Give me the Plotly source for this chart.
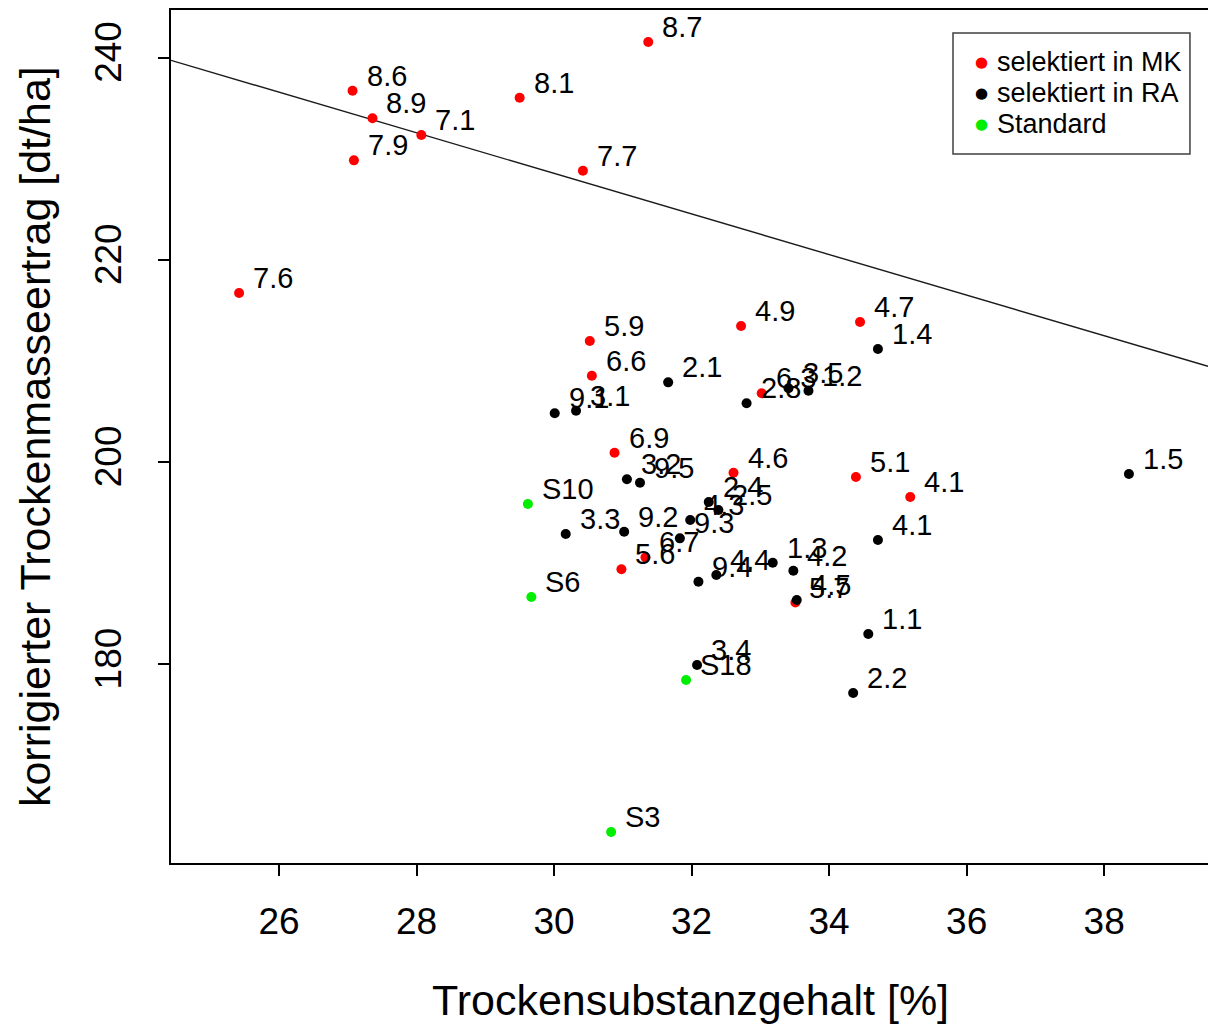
import plotly.graph_objects as go

# ---------------- data ----------------
red_labels = ["8.7", "8.6", "8.9", "7.1", "7.9", "8.1", "7.7", "7.6", "5.9", "6.6",
              "4.9", "4.7", "6.3", "6.9", "4.6", "5.1", "4.1", "6.7", "5.6", "5.7"]
red_x = [31.37, 27.07, 27.36, 28.07, 27.09, 29.50, 30.42, 25.42, 30.52, 30.55,
         32.72, 34.45, 33.02, 30.88, 32.61, 34.39, 35.18, 31.33, 30.98, 33.51]
red_y = [241.53, 236.72, 233.99, 232.33, 229.83, 236.02, 228.80, 216.71, 211.96, 208.53,
         213.44, 213.84, 206.79, 200.91, 198.93, 198.51, 196.53, 190.56, 189.38, 186.09]

black_labels = ["1.4", "2.1", "2.8", "3.5", "1.2", "9.1", "3.1", "3.2", "9.5", "1.5",
                "2.4", "2.5", "4.3", "3.3", "9.2", "9.3", "4.1", "1.3", "4.2", "4.4",
                "9.4", "4.5", "1.1", "3.4", "2.2"]
black_x = [34.71, 31.66, 32.80, 33.41, 33.70, 30.01, 30.32, 31.06, 31.25, 38.36,
           32.25, 32.39, 31.98, 30.17, 31.02, 31.83, 34.71, 33.18, 33.48, 32.36,
           32.10, 33.53, 34.57, 32.08, 34.35]
black_y = [211.17, 207.87, 205.80, 207.28, 207.04, 204.81, 205.06, 198.28, 197.94, 198.80,
           196.03, 195.24, 194.25, 192.87, 193.10, 192.44, 192.28, 190.03, 189.24, 188.81,
           188.15, 186.34, 182.98, 179.91, 177.14]

green_labels = ["S10", "S6", "S18", "S3"]
green_x = [29.62, 29.67, 31.92, 30.83]
green_y = [195.84, 186.64, 178.43, 163.39]

legend_names = ["selektiert in MK", "selektiert in RA", "Standard"]

x_ticks = [26, 28, 30, 32, 34, 36, 38]
y_ticks = [180, 200, 220, 240]
x_range = [24.43, 39.51]
y_range = [160.33, 244.70]

line_intercept = 288.75
line_slope = -2.007

x_title = "Trockensubstanzgehalt [%]"
y_title = "korrigierter Trockenmasseertrag [dt/ha]"

# ---------------- figure ----------------
FONT = "Liberation Sans, Arial, sans-serif"
fig = go.Figure()

line_x = list(x_range)
line_y = [line_intercept + line_slope * v for v in line_x]
fig.add_trace(go.Scatter(x=line_x, y=line_y, mode="lines",
                         line=dict(color="#1a1a1a", width=1.4),
                         hoverinfo="skip", showlegend=False))

groups = [
    (red_labels, red_x, red_y, "#ff0000", legend_names[0]),
    (black_labels, black_x, black_y, "#000000", legend_names[1]),
    (green_labels, green_x, green_y, "#00ee00", legend_names[2]),
]

annotations = []
for labels, xs, ys, color, name in groups:
    fig.add_trace(go.Scatter(x=xs, y=ys, mode="markers", name=name,
                             marker=dict(color=color, size=10, line=dict(width=0)),
                             showlegend=False))
    for lab, xv, yv in zip(labels, xs, ys):
        annotations.append(dict(x=xv, y=yv, xref="x", yref="y", text=lab,
                                showarrow=False, xanchor="left", yanchor="middle",
                                xshift=12, yshift=15,
                                font=dict(family=FONT, size=29, color="#000000")))

# legend (custom box)
leg_colors = ["#ff0000", "#000000", "#00ee00"]
leg_y = [0.9390, 0.9027, 0.8663]
for name, col, yy in zip(legend_names, leg_colors, leg_y):
    annotations.append(dict(x=0.7811, y=yy, xref="paper", yref="paper", text="●",
                            showarrow=False, xanchor="center", yanchor="middle",
                            font=dict(family="DejaVu Sans", size=15, color=col)))
    annotations.append(dict(x=0.7950, y=yy, xref="paper", yref="paper", text=name,
                            showarrow=False, xanchor="left", yanchor="middle",
                            font=dict(family=FONT, size=27, color="#000000")))

# axis titles
annotations.append(dict(x=0.5014, y=-0.1606, xref="paper", yref="paper", text=x_title,
                        showarrow=False, xanchor="center", yanchor="middle",
                        font=dict(family=FONT, size=43, color="#000000")))
annotations.append(dict(x=-0.1311, y=0.4994, xref="paper", yref="paper", text=y_title,
                        showarrow=False, xanchor="center", yanchor="middle", textangle=-90,
                        font=dict(family=FONT, size=43, color="#000000")))

shapes = [dict(type="rect", xref="paper", yref="paper",
               x0=0.7541, x1=0.9826, y0=0.8312, y1=0.9730,
               line=dict(color="#404040", width=1.5), fillcolor="rgba(0,0,0,0)")]

fig.update_layout(
    width=1208, height=1025,
    margin=dict(l=171, r=0, t=10, b=162),
    paper_bgcolor="white", plot_bgcolor="white",
    showlegend=False, hovermode=False,
    annotations=annotations, shapes=shapes,
    xaxis=dict(range=x_range, tickvals=x_ticks, ticks="outside", ticklen=11, tickwidth=2,
               tickcolor="black", showline=True, linecolor="black", linewidth=2, mirror=True,
               showgrid=False, zeroline=False, ticklabelstandoff=14,
               tickfont=dict(family=FONT, size=37, color="#000000")),
    yaxis=dict(range=y_range, tickvals=y_ticks, ticks="outside", ticklen=11, tickwidth=2,
               tickcolor="black", showline=True, linecolor="black", linewidth=2,
               showgrid=False, zeroline=False, tickangle=-90, ticklabelstandoff=22,
               tickfont=dict(family=FONT, size=37, color="#000000")),
)

fig.write_html("out.html")
